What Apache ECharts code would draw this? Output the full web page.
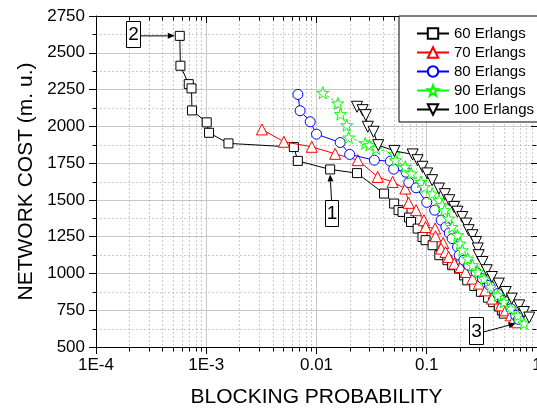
<!DOCTYPE html>
<html><head><meta charset="utf-8">
<script src="https://cdn.jsdelivr.net/npm/echarts@6/dist/echarts.min.js"></script>
<style>html,body{margin:0;padding:0;background:#fff}#c{width:537px;height:411px}</style>
</head><body><div id="c"></div>
<script>
// ---- data ----
const xTickValues = [1e-4, 1e-3, 0.01, 0.1, 1];
const xTickLabels = ['1E-4', '1E-3', '0.01', '0.1', '1'];
const yMin = 500, yMax = 2750, yStep = 250;
const seriesNames = ['60 Erlangs', '70 Erlangs', '80 Erlangs', '90 Erlangs', '100 Erlangs'];

const s60 = [[5.75e-4,2615],[5.83e-4,2412],[6.94e-4,2287],[7.35e-4,2258],[7.42e-4,2108],[1.01e-3,2027],[1.06e-3,1956],[1.59e-3,1884],[6.23e-3,1859],[6.77e-3,1765],[0.0133,1707],[0.0233,1682],[0.041,1543],[0.0506,1475],[0.0555,1430],[0.0603,1418],[0.069,1380],[0.072,1350],[0.0827,1305],[0.0915,1248],[0.0976,1226],[0.113,1192],[0.13,1124],[0.154,1090],[0.17,1056],[0.196,1033],[0.218,987],[0.233,953],[0.27,915],[0.31,875],[0.36,835],[0.40,805],[0.45,775],[0.48,748],[0.50,727]];
const s70 = [[3.2e-3,1979],[5.06e-3,1895],[9.07e-3,1861],[0.01476,1813],[0.0237,1770],[0.0359,1656],[0.049,1622],[0.0639,1577],[0.0685,1480],[0.08,1430],[0.0943,1362],[0.0976,1316],[0.119,1305],[0.12,1253],[0.141,1207],[0.135,1169],[0.148,1146],[0.158,1112],[0.178,1067],[0.203,1044],[0.225,1010],[0.26,965],[0.297,931],[0.34,885],[0.39,829],[0.47,783],[0.52,749],[0.58,715],[0.62,693],[0.66,668]];
const s80 = [[6.78e-3,2217],[7.1e-3,2106],[8.77e-3,2031],[0.01,1947],[0.0164,1890],[0.02,1809],[0.0335,1770],[0.0468,1763],[0.0501,1709],[0.065,1688],[0.0687,1618],[0.08,1582],[0.1,1483],[0.118,1430],[0.135,1362],[0.149,1316],[0.16,1275],[0.17,1237],[0.19,1180],[0.197,1124],[0.217,1090],[0.24,1056],[0.28,1010],[0.32,965],[0.37,920],[0.44,863],[0.5,817],[0.58,761],[0.64,715],[0.68,688]];
const s90 = [[0.0114,2228],[0.0156,2156],[0.0165,2083],[0.0188,2008],[0.0196,1924],[0.0277,1884],[0.0302,1872],[0.0347,1850],[0.0509,1811],[0.052,1770],[0.0638,1725],[0.0722,1680],[0.0886,1622],[0.095,1588],[0.112,1543],[0.129,1498],[0.138,1464],[0.145,1430],[0.158,1373],[0.17,1316],[0.19,1260],[0.2,1203],[0.21,1158],[0.235,1101],[0.26,1056],[0.29,1010],[0.33,965],[0.38,908],[0.44,851],[0.5,806],[0.58,761],[0.67,715],[0.76,660]];
const s100 = [[0.0233,2133],[0.0262,2110],[0.028,2076],[0.0292,1997],[0.0329,1963],[0.0363,1872],[0.0509,1833],[0.0745,1809],[0.0825,1770],[0.0914,1725],[0.101,1680],[0.112,1634],[0.129,1577],[0.146,1539],[0.16,1498],[0.177,1452],[0.19,1420],[0.21,1384],[0.228,1339],[0.24,1294],[0.26,1260],[0.28,1214],[0.29,1170],[0.296,1124],[0.32,1078],[0.35,1022],[0.39,976],[0.45,931],[0.52,874],[0.59,829],[0.69,783],[0.76,738],[0.85,700]];

// annotation anchors (data coords)
const annotations = [
  {label: '2', target: [5.75e-4, 2615]},
  {label: '1', target: [0.0133, 1707]},
  {label: '3', target: [0.64, 660]}
];

const seriesData = [s60, s70, s80, s90, s100];
const colors = ['#000000', '#ff0000', '#0000ff', '#00ff00', '#000000'];
const STAR = 'path://M0,-1L0.235,-0.324L0.951,-0.309L0.38,0.124L0.588,0.809L0,0.4L-0.588,0.809L-0.38,0.124L-0.951,-0.309L-0.235,-0.324Z';
const symbols = ['rect', 'triangle', 'circle', STAR, 'triangle'];
const symbolSizes = [9, 11, 10, 12, 11];
const rotates = [0, 0, 0, 0, 180];
const dashes = ['solid', 'solid', 'solid', [3, 2], 'solid'];
const FONT = '"Liberation Sans", Arial, sans-serif';
const MINOR = '#999999';

const chart = echarts.init(document.getElementById('c'), null, {renderer: 'canvas'});
const labelMap = {};
xTickValues.forEach((v, i) => labelMap[v.toExponential()] = xTickLabels[i]);

// minor y values (midpoints between major ticks)
const yMinorValues = [];
for (let v = yMin + yStep / 2; v < yMax; v += yStep) yMinorValues.push(v);

const option = {
  animation: false,
  backgroundColor: '#fff',
  grid: {left: 96, top: 16, width: 441, height: 331, containLabel: false, outerBoundsMode: 'none'},
  legend: {
    orient: 'vertical', left: 399, top: 16,
    padding: [10, 16, 5, 17],
    itemWidth: 32, itemHeight: 13, itemGap: 4,
    borderColor: '#000', borderWidth: 1, backgroundColor: '#fff',
    lineStyle: {type: 'solid'},
    textStyle: {fontSize: 15, color: '#000', fontFamily: FONT},
    data: seriesNames
  },
  xAxis: [{
    type: 'log', logBase: 10, min: 1e-4, max: 1, position: 'bottom',
    axisLine: {lineStyle: {color: '#000', width: 1}},
    axisTick: {inside: false, length: 7, lineStyle: {color: '#000'}},
    splitLine: {show: true, lineStyle: {color: '#c8c8c8', width: 1}},
    axisLabel: {fontSize: 17, color: '#000', fontFamily: FONT, margin: 10,
      formatter: v => labelMap[Number(v).toExponential()] || ''},
    name: 'BLOCKING PROBABILITY', nameLocation: 'middle', nameGap: 40,
    nameTextStyle: {fontSize: 21, color: '#000', fontFamily: FONT}
  }, {
    type: 'log', logBase: 10, min: 1e-4, max: 1, position: 'top',
    axisLine: {lineStyle: {color: '#000', width: 1}},
    axisTick: {inside: true, length: 7, lineStyle: {color: '#000'}},
    splitLine: {show: false}, axisLabel: {show: false}
  }],
  yAxis: [{
    type: 'value', min: yMin, max: yMax, interval: yStep, position: 'left',
    axisLine: {show: true, lineStyle: {color: '#000', width: 1}},
    axisTick: {show: true, inside: false, length: 7, lineStyle: {color: '#000'}},
    splitLine: {show: true, lineStyle: {color: '#c8c8c8', width: 1}},
    axisLabel: {fontSize: 17, color: '#000', fontFamily: FONT, margin: 11, formatter: v => String(v)},
    name: 'NETWORK COST (m. u.)', nameLocation: 'middle', nameGap: 56,
    nameTextStyle: {fontSize: 21, color: '#000', fontFamily: FONT}
  }, {
    type: 'value', min: yMin, max: yMax, interval: yStep, position: 'right',
    axisLine: {show: true, lineStyle: {color: '#000', width: 1}},
    axisTick: {show: true, inside: true, length: 6, lineStyle: {color: '#000'}},
    splitLine: {show: false}, axisLabel: {show: false}
  }],
  series: seriesNames.map((n, i) => ({
    name: n, type: 'line', data: seriesData[i],
    symbol: symbols[i], symbolSize: symbolSizes[i], symbolRotate: rotates[i],
    showAllSymbol: true,
    itemStyle: {color: '#fff', borderColor: colors[i], borderWidth: 1},
    lineStyle: {color: colors[i], width: 1, type: dashes[i]},
    z: 3 + i
  }))
};
chart.setOption(option);

// minor ticks / dotted minor grid + annotations, positioned through the axis scales
function px(v) { return chart.convertToPixel({xAxisIndex: 0}, v); }
function py(v) { return chart.convertToPixel({yAxisIndex: 0}, v); }
const g = [];
const yb = Math.round(py(yMin)) + 0.5, yt = Math.round(py(yMax)) + 0.5;
const xl = Math.round(px(1e-4)) + 0.5, xr = Math.round(px(1)) - 0.5;
function seg(x1, y1, x2, y2, stroke, dash) {
  g.push({type: 'line', silent: true, z: 1, zlevel: 0,
    shape: {x1, y1, x2, y2},
    style: dash ? {stroke, lineWidth: 1, lineDash: dash} : {stroke, lineWidth: 1}});
}
for (let d = -4; d < 0; d++) {
  for (let k = 2; k <= 9; k++) {
    const x = Math.round(px(k * Math.pow(10, d))) + 0.5;
    seg(x, yt, x, yb, MINOR, [1, 3]);
    seg(x, yb, x, yb + 4, '#000');
    seg(x, yt, x, yt + 4, '#000');
  }
}
yMinorValues.forEach(v => {
  const y = Math.round(py(v)) + 0.5;
  seg(xl, y, xr, y, MINOR, [1, 3]);
  seg(xl - 4, y, xl, y, '#000');
  seg(xr - 4, y, xr, y, '#000');
});
function arrow(x1, y1, x2, y2) {
  const a = Math.atan2(y2 - y1, x2 - x1), L = 7, W = 3;
  const bx = x2 - L * Math.cos(a), by = y2 - L * Math.sin(a);
  g.push({type: 'line', z: 100, silent: true, shape: {x1, y1, x2: bx, y2: by}, style: {stroke: '#000', lineWidth: 1}});
  g.push({type: 'polygon', z: 100, silent: true, shape: {points: [[x2, y2],
    [bx + W * Math.sin(a), by - W * Math.cos(a)], [bx - W * Math.sin(a), by + W * Math.cos(a)]]},
    style: {fill: '#000'}});
}
function box(label, x, y, w, h) {
  g.push({type: 'rect', z: 100, silent: true, shape: {x: x + 0.5, y: y + 0.5, width: w, height: h},
    style: {fill: '#fff', stroke: '#000', lineWidth: 1}});
  g.push({type: 'text', z: 101, silent: true, x: x + w / 2 + 0.5, y: y + h / 2 + 1,
    style: {text: label, fill: '#000', font: '19px ' + FONT, align: 'center', verticalAlign: 'middle'}});
}
{
  const t = annotations[0].target, tx = px(t[0]) - 5, ty = py(t[1]);
  box('2', 126, 21, 14, 26);
  arrow(140.5, ty, tx, ty);
}
{
  const t = annotations[1].target, tx = px(t[0]), ty = py(t[1]) + 5;
  box('1', 325, 200, 13, 26);
  arrow(331.5, 200, tx, ty);
}
{
  const t = annotations[2].target, tx = px(t[0]), ty = py(t[1]);
  box('3', 469, 317, 14, 27);
  arrow(483.5, 332, tx, ty);
}
chart.setOption({graphic: {elements: g}});
</script>
</body></html>
